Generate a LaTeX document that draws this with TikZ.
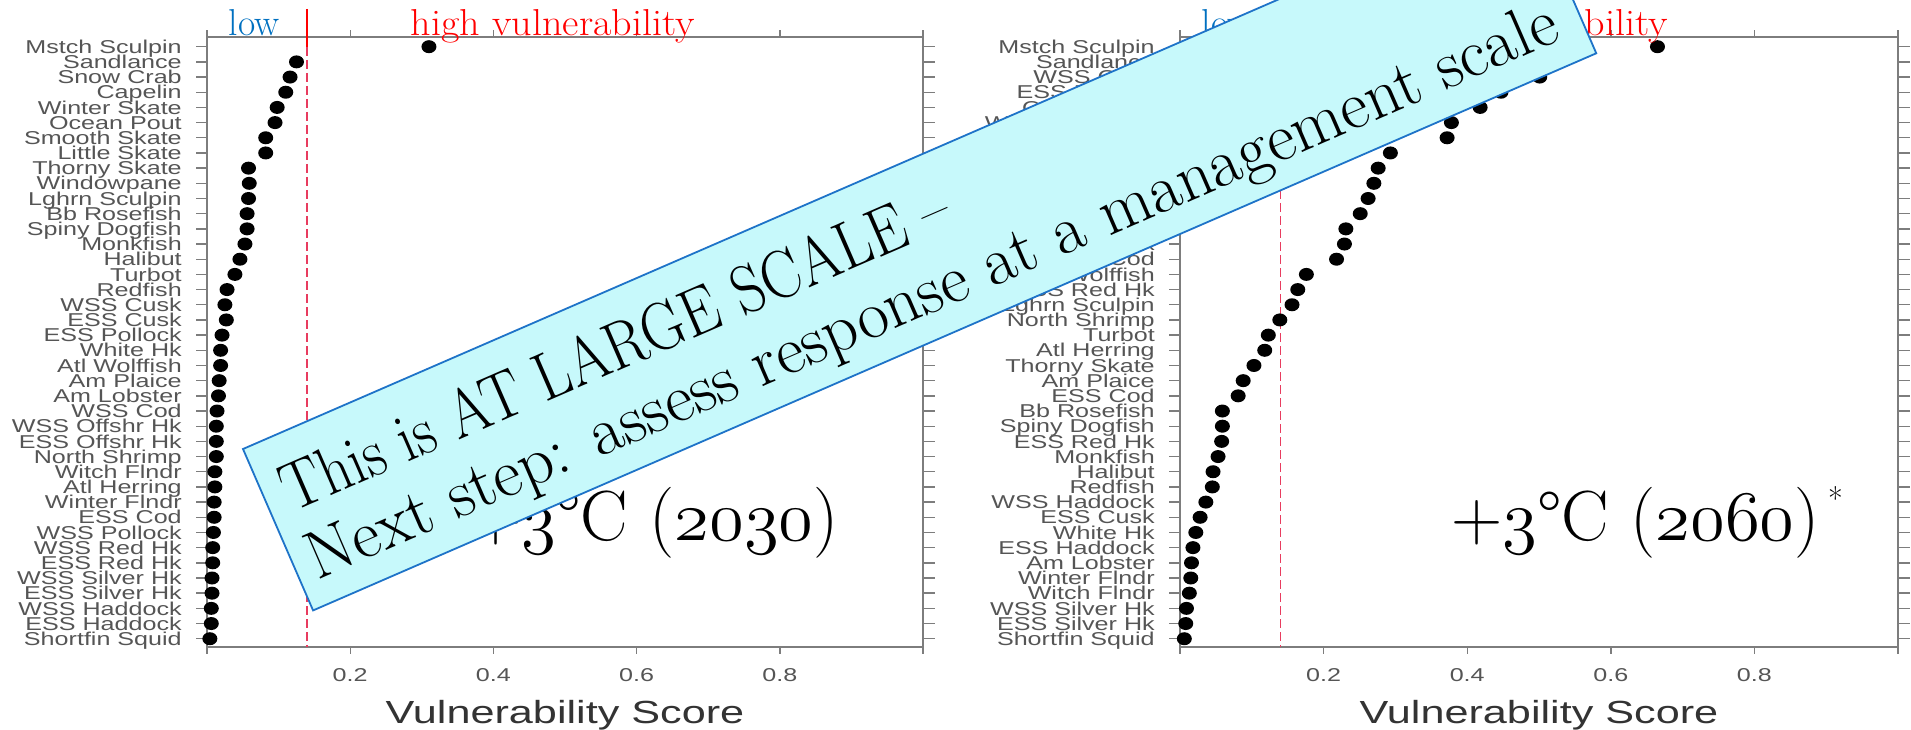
\RequirePackage{fix-cm}
\documentclass[tikz,border=0pt]{standalone}
\usepackage{fontspec}
\newfontfamily\plotfont{Liberation Sans}
\newcommand\osfig[1]{{\usefont{OML}{cmm}{m}{it}#1}}

\definecolor{plotgray}{RGB}{85,85,85}
\definecolor{axisgray}{RGB}{125,125,125}
\definecolor{lowblue}{RGB}{0,112,192}
\definecolor{bannerfill}{RGB}{199,249,251}
\definecolor{bannerline}{RGB}{30,115,200}
\definecolor{cutred}{RGB}{232,60,95}

\tikzset{
  spname/.style={font=\plotfont\fontsize{18.6}{18.6}\selectfont, text=plotgray, anchor=base east, inner sep=0pt, xscale=1.35},
  ticklab/.style={font=\plotfont\fontsize{18.6}{18.6}\selectfont, text=plotgray, anchor=base, inner sep=0pt, xscale=1.35},
  axistitle/.style={font=\plotfont\fontsize{32}{32}\selectfont, text=black!80, anchor=base, inner sep=0pt, xscale=1.35},
  axisline/.style={draw=axisgray, line width=1.8pt},
  tickline/.style={draw=axisgray, line width=1.4pt},
  cutoff/.style={draw=cutred, line width=1.6pt, dash pattern=on 9pt off 4pt},
  riskword/.style={font=\fontsize{37.5}{37.5}\selectfont, anchor=base west, inner sep=0pt},
  warmlab/.style={font=\fontsize{71}{71}\selectfont, anchor=base east, inner sep=0pt},
  banner/.style={fill=bannerfill, draw=bannerline, line width=1.8pt},
  bannertext/.style={font=\fontsize{68}{68}\selectfont, anchor=base west, inner sep=0pt, transform shape}
}

\begin{document}
\begin{tikzpicture}[x=1pt,y=-1pt]
	\useasboundingbox (0,0) rectangle (1911,730);

	%%% left panel: +3C (2030)
	% frame and outer ticks
	\draw[axisline] (207,36.7) rectangle (923,646.7);
	\foreach \t in {0,0.2,0.4,0.6,0.8,1}{
		\draw[tickline] (207+716*\t,36.7) -- (207+716*\t,29.7);
		\draw[tickline] (207+716*\t,646.7) -- (207+716*\t,654);
	}
	\foreach \t in {0.2,0.4,0.6,0.8}
		\node[ticklab] (ltick\t) at (207+716*\t,681.5) {\t};
	\node[axistitle] (lxtitle) at (565,723) {Vulnerability Score};
	% threshold
	\draw[red, line width=2pt] (307.2,9) -- (307.2,47);
	\draw[cutoff] (307.2,47) -- (307.2,646.7);
	% species and scores
	\foreach \nm/\v [count=\i] in {Mstch Sculpin/0.310, Sandlance/0.125, Snow Crab/0.116, Capelin/0.110,
		Winter Skate/0.098, Ocean Pout/0.095, Smooth Skate/0.082, Little Skate/0.082, Thorny Skate/0.058,
		Windowpane/0.059, Lghrn Sculpin/0.058, Bb Rosefish/0.056, Spiny Dogfish/0.056, Monkfish/0.053,
		Halibut/0.046, Turbot/0.039, Redfish/0.028, WSS Cusk/0.025, ESS Cusk/0.027, ESS Pollock/0.021,
		White Hk/0.019, Atl Wolffish/0.019, Am Plaice/0.017, Am Lobster/0.016, WSS Cod/0.014,
		WSS Offshr Hk/0.013, ESS Offshr Hk/0.013, North Shrimp/0.013, Witch Flndr/0.011, Atl Herring/0.011,
		Winter Flndr/0.010, ESS Cod/0.010, WSS Pollock/0.009, WSS Red Hk/0.008, ESS Red Hk/0.008,
		WSS Silver Hk/0.007, ESS Silver Hk/0.007, WSS Haddock/0.006, ESS Haddock/0.006, Shortfin Squid/0.004}{
		\pgfmathsetmacro{\yy}{46.7+(\i-1)*15.18}
		\draw[tickline] (196,\yy) -- (207,\yy);
		\draw[tickline] (923,\yy) -- (935,\yy);
		\node[spname] (lsp\i) at (182,\yy+6.65) {\nm};
		\fill (207+716*\v,\yy) ellipse [x radius=7.5, y radius=6.5];
	}
	\node[riskword, text=lowblue] (llow) at (228.7,36) {low};
	\node[riskword, text=red, xscale=1.07] (lhigh) at (410.5,36) {high vulnerability};

	%%% right panel: +3C (2060)
	\draw[axisline] (1180,36.7) rectangle (1898,646.7);
	\foreach \t in {0,0.2,0.4,0.6,0.8,1}{
		\draw[tickline] (1180+718*\t,36.7) -- (1180+718*\t,29.7);
		\draw[tickline] (1180+718*\t,646.7) -- (1180+718*\t,654);
	}
	\foreach \t in {0.2,0.4,0.6,0.8}
		\node[ticklab] (rtick\t) at (1180+718*\t,681.5) {\t};
	\node[axistitle] (rxtitle) at (1539,723) {Vulnerability Score};
	\draw[red, line width=2pt] (1280.5,9) -- (1280.5,47);
	\draw[cutoff] (1280.5,47) -- (1280.5,646.7);
	\foreach \nm/\v [count=\i] in {Mstch Sculpin/0.665, Sandlance/0.530, WSS Cusk/0.501, ESS Pollock/0.447,
		Ocean Pout/0.418, WSS Offshr Hk/0.378, Snow Crab/0.372, Capelin/0.293, Winter Skate/0.276,
		Smooth Skate/0.270, Little Skate/0.262, Windowpane/0.251, ESS Offshr Hk/0.231, WSS Pollock/0.229,
		WSS Cod/0.218, Atl Wolffish/0.176, WSS Red Hk/0.164, Lghrn Sculpin/0.156, North Shrimp/0.139,
		Turbot/0.123, Atl Herring/0.118, Thorny Skate/0.103, Am Plaice/0.088, ESS Cod/0.081,
		Bb Rosefish/0.059, Spiny Dogfish/0.059, ESS Red Hk/0.058, Monkfish/0.053, Halibut/0.046,
		Redfish/0.045, WSS Haddock/0.036, ESS Cusk/0.028, White Hk/0.022, ESS Haddock/0.018,
		Am Lobster/0.016, Winter Flndr/0.015, Witch Flndr/0.013, WSS Silver Hk/0.009,
		ESS Silver Hk/0.008, Shortfin Squid/0.006}{
		\pgfmathsetmacro{\yy}{46.7+(\i-1)*15.18}
		\draw[tickline] (1169,\yy) -- (1180,\yy);
		\draw[tickline] (1898,\yy) -- (1910,\yy);
		\node[spname] (rsp\i) at (1155,\yy+6.65) {\nm};
		\fill (1180+718*\v,\yy) ellipse [x radius=7.5, y radius=6.5];
	}
	\node[riskword, text=lowblue] (rlow) at (1201.7,36) {low};
	\node[riskword, text=red, xscale=1.07] (rhigh) at (1383.5,36) {high vulnerability};

	% warming labels
	\node[warmlab] (warm1) at (839,540) {+\osfig{3}°C (\osfig{2030})};
	\node[warmlab] (warm2) at (1820,540) {+\osfig{3}°C (\osfig{2060})};
	\node[font=\fontsize{32}{32}\selectfont, anchor=base west, inner sep=0pt] (warmstar) at ([xshift=8pt,yshift=30pt]warm2.base east) {*};

	%%% banner on top
	\begin{scope}[shift={(243,449)}, rotate=23.47]
		\draw[banner] (0,0) rectangle (1399,176);
		\node[bannertext, xscale=0.885] (line1) at (20,78) {This is AT LARGE SCALE –};
		\node[bannertext] (line2) at (16,150) {Next step: assess response at a management scale};
	\end{scope}
\end{tikzpicture}
\end{document}
